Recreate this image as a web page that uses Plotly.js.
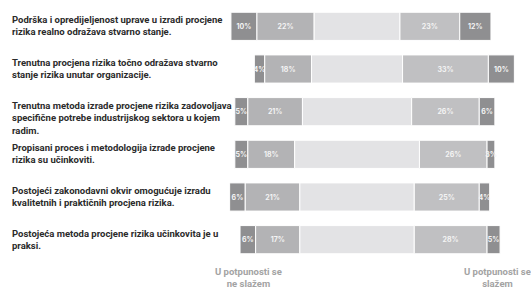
<!DOCTYPE html>
<html>
<head>
<meta charset="utf-8">
<script src="https://cdn.plot.ly/plotly-3.0.1.min.js"></script>
<style>html,body{margin:0;padding:0;background:#fff;}#chart{width:531px;height:287px;}</style>
</head>
<body>
<div id="chart"></div>
<script>
const statements = [
  "Podrška i opredijeljenost uprave u izradi procjene<br>rizika realno odražava stvarno stanje.",
  "Trenutna procjena rizika točno odražava stvarno<br>stanje rizika unutar organizacije.",
  "Trenutna metoda izrade procjene rizika zadovoljava<br>specifične potrebe industrijskog sektora u kojem<br>radim.",
  "Propisani proces i metodologija izrade procjene<br>rizika su učinkoviti.",
  "Postojeći zakonodavni okvir omogućuje izradu<br>kvalitetnih i praktičnih procjena rizika.",
  "Postojeća metoda procjene rizika učinkovita je u<br>praksi."
];
const stronglyDisagree = [10, 4, 5, 5, 6, 6];
const disagree = [22, 18, 21, 18, 21, 17];
const neutral = [33, 35, 42, 48, 44, 44];
const agree = [23, 33, 26, 26, 25, 28];
const stronglyAgree = [12, 10, 6, 3, 4, 5];
const scaleLabels = ["U potpunosti se<br>ne slažem", "U potpunosti se<br>slažem"];

const rows = statements.map((_, i) => i);
const half = neutral.map(v => v / 2);

const colors = {sd: "#8f8f91", d: "#b3b3b5", n: "#e3e3e5", a: "#c0c0c2", sa: "#8f8f91"};

function barTrace(values, bases, color, showText) {
  return {
    type: "bar", orientation: "h",
    y: rows, x: values, base: bases,
    width: 0.66,
    marker: {color: color, line: {color: "#ffffff", width: 1}},
    text: showText ? values.map(v => v + "%") : values.map(() => ""),
    textposition: "inside",
    insidetextanchor: "middle",
    textangle: 0,
    constraintext: "none",
    textfont: {color: "#f4f4f4", size: 7, family: "Inter, Roboto, sans-serif", weight: "bold"},
    hoverinfo: "none",
    cliponaxis: false
  };
}

const traces = [
  barTrace(stronglyDisagree, rows.map(i => -(half[i] + disagree[i] + stronglyDisagree[i])), colors.sd, true),
  barTrace(disagree, rows.map(i => -(half[i] + disagree[i])), colors.d, true),
  barTrace(neutral, rows.map(i => -half[i]), colors.n, false),
  barTrace(agree, rows.map(i => half[i]), colors.a, true),
  barTrace(stronglyAgree, rows.map(i => half[i] + agree[i]), colors.sa, true)
];

const annotations = statements.map((s, i) => ({
  text: s, xref: "paper", yref: "y", x: 0.0188, y: i - 0.33,
  xanchor: "left", yanchor: "top", align: "left", showarrow: false,
  font: {family: "Roboto, sans-serif", size: 9.5, color: "#2b2b2b", weight: "bold"}
}));
annotations.push({
  text: scaleLabels[0], xref: "x", yref: "paper", x: -41.9, y: 0, yshift: -3,
  xanchor: "center", yanchor: "top", showarrow: false,
  font: {family: "Roboto, sans-serif", size: 9.5, color: "#a3a3a3", weight: "bold"}
});
annotations.push({
  text: scaleLabels[1], xref: "x", yref: "paper", x: 54.2, y: 0, yshift: -3,
  xanchor: "center", yanchor: "top", showarrow: false,
  font: {family: "Roboto, sans-serif", size: 9.5, color: "#a3a3a3", weight: "bold"}
});

const layout = {
  width: 531, height: 287,
  margin: {l: 0, r: 0, t: 5, b: 26, pad: 0},
  paper_bgcolor: "#ffffff", plot_bgcolor: "#ffffff",
  barmode: "overlay",
  showlegend: false,
  xaxis: {domain: [200 / 531, 1], range: [-60.4, 66.9], visible: false, fixedrange: true},
  yaxis: {range: [5.5, -0.5], visible: false, fixedrange: true},
  annotations: annotations
};

Plotly.newPlot("chart", traces, layout, {displayModeBar: false, staticPlot: true});
</script>
</body>
</html>
